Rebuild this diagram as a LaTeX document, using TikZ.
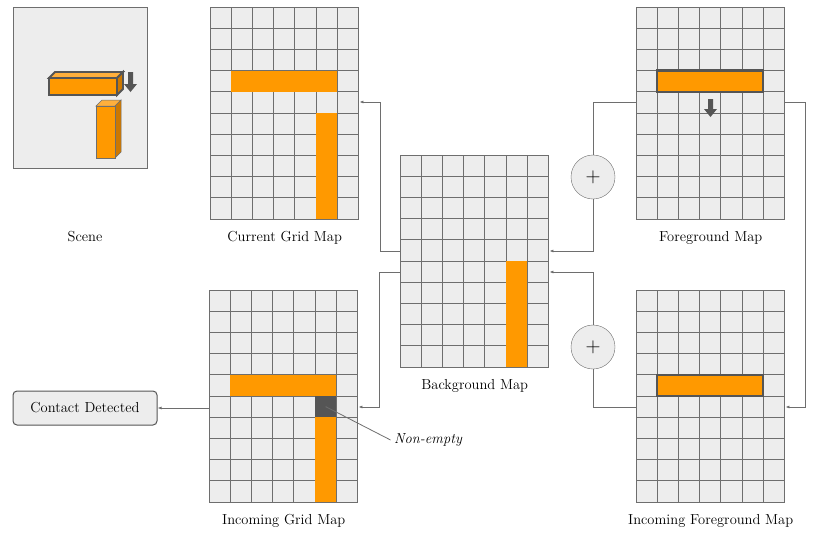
\documentclass[tikz,border=0pt]{standalone}
\usepackage{tikz}
\usetikzlibrary{positioning,arrows.meta,calc}
\definecolor{gmFill}{RGB}{237,237,237}
\definecolor{gmLine}{RGB}{110,110,110}
\definecolor{gmOrange}{RGB}{255,153,0}
\definecolor{gmOrangeTop}{RGB}{255,175,60}
\definecolor{gmOrangeSide}{RGB}{205,120,0}
\definecolor{gmDark}{RGB}{85,85,85}
\newcommand{\cellsz}{21.2}
% grid lines inside a map node
\newcommand{\gridlines}[1]{
  \foreach \i in {1,...,6}
    \draw[gmLine, line width=0.8pt] ($(#1.north west)+(\i*\cellsz,0)$) -- ++(0,212);
  \foreach \j in {1,...,9}
    \draw[gmLine, line width=0.8pt] ($(#1.north west)+(0,\j*\cellsz)$) -- ++(148.4,0);
  \node[gridmap, fill=none, anchor=north west] at (#1.north west) {};
}
% fill cells: node, col, row, width, height, style
\newcommand{\cellblock}[6]{
  \fill[#6] ($(#1.north west)+(#2*\cellsz,#3*\cellsz)$) rectangle ++(#4*\cellsz,#5*\cellsz);
}
\begin{document}
\begin{tikzpicture}[x=1pt, y=-1pt, font=\fontsize{14.5}{17}\selectfont,
  gridmap/.style={draw=gmLine, line width=1pt, fill=gmFill, minimum width=148.4pt, minimum height=212pt, inner sep=0pt},
  link/.style={gmLine, line width=0.8pt, -{Latex[length=4pt,width=3pt]}},
  plain/.style={gmLine, line width=0.8pt},
  summer/.style={circle, draw=gmLine, fill=gmFill, minimum size=44pt, inner sep=0pt, font=\huge},
  caption/.style={inner sep=1pt}]
  \useasboundingbox (0,0) rectangle (830,536);

  % Scene
  \node[draw=gmLine, line width=1pt, fill=gmFill, minimum width=134pt, minimum height=161pt, anchor=north west] (scene) at (13,7) {};
  \fill[gmOrangeTop, draw=gmDark, line width=1.8pt] (49,78) -- (55,72) -- (123,72) -- (117,78) -- cycle;
  \fill[gmOrangeSide, draw=gmDark, line width=1.8pt] (117,78) -- (123,72) -- (123,89) -- (117,95) -- cycle;
  \fill[gmOrange, draw=gmDark, line width=1.8pt] (49,78) rectangle (117,95);
  \fill[gmDark] (128,72) rectangle (133,84) (124,84) -- (137,84) -- (130.5,92) -- cycle;
  \fill[gmOrangeTop, draw=gmLine, line width=0.5pt] (96,106) -- (102,100) -- (121,100) -- (115,106) -- cycle;
  \fill[gmOrangeSide, draw=gmLine, line width=0.5pt] (115,106) -- (121,100) -- (121,152) -- (115,158) -- cycle;
  \fill[gmOrange, draw=gmLine, line width=0.5pt] (96,106) rectangle (115,158);
  \node[caption] (sceneLbl) at (85,237) {Scene};

  % Maps
  \node[gridmap, anchor=north west] (cur) at (210,7) {};
  \node[gridmap, anchor=north west] (bg) at (400,155) {};
  \node[gridmap, anchor=north west] (fg) at (636,7) {};
  \node[gridmap, anchor=north west] (inc) at (209,290) {};
  \node[gridmap, anchor=north west] (incfg) at (636,290) {};
  \foreach \m in {cur,bg,fg,inc,incfg} {\gridlines{\m}}

  \cellblock{cur}{1}{3}{5}{1}{gmOrange}
  \cellblock{cur}{5}{5}{1}{5}{gmOrange}
  \cellblock{bg}{5}{5}{1}{5}{gmOrange}
  \cellblock{inc}{1}{4}{5}{1}{gmOrange}
  \cellblock{inc}{5}{5}{1}{1}{gmDark}
  \cellblock{inc}{5}{6}{1}{4}{gmOrange}
  \draw[gmDark, line width=2.5pt, fill=gmOrange] ($(fg.north west)+(\cellsz,3*\cellsz)$) rectangle ++(5*\cellsz,\cellsz);
  \draw[gmDark, line width=2.5pt, fill=gmOrange] ($(incfg.north west)+(\cellsz,4*\cellsz)$) rectangle ++(5*\cellsz,\cellsz);
  \fill[gmDark] ($(fg.north west)+(72,92)$) rectangle ++(5,10) ++(-9,0) -- ++(13,0) -- ++(-6.5,8) -- cycle;

  \node[caption, below=10pt of cur.south] {Current Grid Map};
  \node[caption, below=10pt of bg.south] {Background Map};
  \node[caption, below=10pt of fg.south] {Foreground Map};
  \node[caption, below=10pt of inc.south] {Incoming Grid Map};
  \node[caption, below=10pt of incfg.south] {Incoming Foreground Map};

  % Sum nodes
  \node[summer] (addA) at (593,177) {$+$};
  \node[summer] (addB) at (593,347) {$+$};

  % Connectors
  \coordinate (bgA) at ($(bg.north west)+(0,96)$);
  \coordinate (bgB) at ($(bg.north west)+(0,117)$);
  \coordinate (bgC) at ($(bg.north east)+(0,96)$);
  \coordinate (bgD) at ($(bg.north east)+(0,117)$);
  \coordinate (fgL) at ($(fg.north west)+(0,95)$);
  \coordinate (fgR) at ($(fg.north east)+(0,95)$);
  \coordinate (icfL) at ($(incfg.north west)+(0,117)$);
  \coordinate (icfR) at ($(incfg.north east)+(0,117)$);
  \draw[link] (bgA) -| (380,102) -- (cur.east |- 0,102);
  \draw[link] (bgB) -| (379,407) -- (inc.east |- 0,407);
  \draw[plain] (fgL) -| (addA.north);
  \draw[link] (addA.south) |- (bgC);
  \draw[plain] (icfL) -| (addB.south);
  \draw[link] (addB.north) |- (bgD);
  \draw[link] (fgR) -| (805,407) -- (icfR);

  % Contact
  \node[draw=gmDark, line width=1pt, fill=gmFill, rounded corners=4pt, minimum width=144pt, minimum height=34pt] (contact) at (85,408) {Contact Detected};
  \draw[link] (inc.west |- 0,408) -- (contact.east);
  \node[font=\fontsize{14.5}{17}\selectfont\itshape] (nonempty) at (428,440) {Non-empty};
  \draw[plain] (nonempty.west) -- ($(inc.north west)+(5.5*\cellsz,5.5*\cellsz)$);
\end{tikzpicture}
\end{document}
